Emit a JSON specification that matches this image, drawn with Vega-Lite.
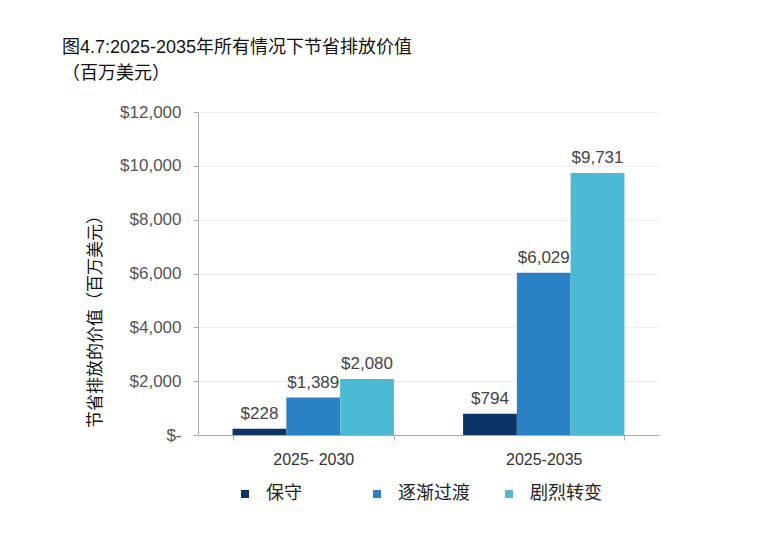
{
  "$schema": "https://vega.github.io/schema/vega-lite/v6.json",
  "width": 461,
  "height": 323,
  "autosize": "none",
  "padding": {"left": 198, "top": 112, "right": 101, "bottom": 104},
  "background": "white",
  "title": {
    "text": ["图4.7:2025-2035年所有情况下节省排放价值", "（百万美元）"],
    "anchor": "start",
    "frame": "group",
    "dx": -136,
    "offset": 20,
    "fontSize": 18,
    "fontWeight": "normal",
    "color": "#111",
    "font": "Liberation Sans, Noto Sans CJK SC",
    "lineHeight": 26
  },
  "data": {
    "values": [
      {"period": "2025- 2030", "scenario": "保守", "value": 228},
      {"period": "2025- 2030", "scenario": "逐渐过渡", "value": 1389},
      {"period": "2025- 2030", "scenario": "剧烈转变", "value": 2080},
      {"period": "2025-2035", "scenario": "保守", "value": 794},
      {"period": "2025-2035", "scenario": "逐渐过渡", "value": 6029},
      {"period": "2025-2035", "scenario": "剧烈转变", "value": 9731}
    ]
  },
  "encoding": {
    "x": {
      "field": "period",
      "type": "nominal",
      "sort": null,
      "scale": {"paddingInner": 0.3, "paddingOuter": 0.15},
      "axis": {
        "title": null,
        "labelAngle": 0,
        "labelFontSize": 16,
        "labelColor": "#333",
        "labelFont": "Liberation Sans",
        "labelPadding": 11,
        "domainColor": "#aaa",
        "tickColor": "#aaa",
        "tickBand": "extent",
        "tickSize": 5
      }
    },
    "xOffset": {"field": "scenario", "type": "nominal", "sort": ["保守", "逐渐过渡", "剧烈转变"], "scale": {"paddingInner": 0}},
    "y": {
      "field": "value",
      "type": "quantitative",
      "scale": {"domain": [0, 12000]},
      "axis": {
        "values": [0, 2000, 4000, 6000, 8000, 10000, 12000],
        "labelExpr": "datum.value == 0 ? '$-' : '$' + format(datum.value, ',')",
        "labelFontSize": 17,
        "labelColor": "#555",
        "labelFont": "Liberation Sans",
        "labelPadding": 12,
        "domainColor": "#aaa",
        "tickColor": "#aaa",
        "tickSize": 5,
        "gridColor": "#eeeeee",
        "title": "节省排放的价值（百万美元）",
        "titleFont": "Noto Sans CJK SC",
        "titleFontSize": 17,
        "titleFontWeight": "normal",
        "titleColor": "#111",
        "titleX": -103,
        "titleY": 205,
        "titleAngle": -90,
        "titleAlign": "center",
        "titleBaseline": "middle"
      }
    }
  },
  "layer": [
    {
      "mark": {"type": "bar"},
      "encoding": {
        "color": {
          "field": "scenario",
          "type": "nominal",
          "sort": ["保守", "逐渐过渡", "剧烈转变"],
          "scale": {"domain": ["保守", "逐渐过渡", "剧烈转变"], "range": ["#0c3466", "#2a82c4", "#4bbad5"]},
          "legend": {
            "title": null,
            "orient": "none",
            "legendX": 38,
            "legendY": 373,
            "direction": "horizontal",
            "gridAlign": "all",
            "columnPadding": 30,
            "symbolType": "square",
            "symbolSize": 64,
            "symbolStrokeWidth": 0,
            "labelFontSize": 18,
            "labelFont": "Noto Sans CJK SC",
            "labelColor": "#222",
            "labelOffset": 12
          }
        }
      }
    },
    {
      "mark": {"type": "text", "dy": -15, "fontSize": 17, "font": "Liberation Sans", "color": "#444"},
      "encoding": {
        "text": {"field": "value", "type": "quantitative", "format": "$,.0f"}
      }
    }
  ],
  "config": {"view": {"stroke": null}}
}
